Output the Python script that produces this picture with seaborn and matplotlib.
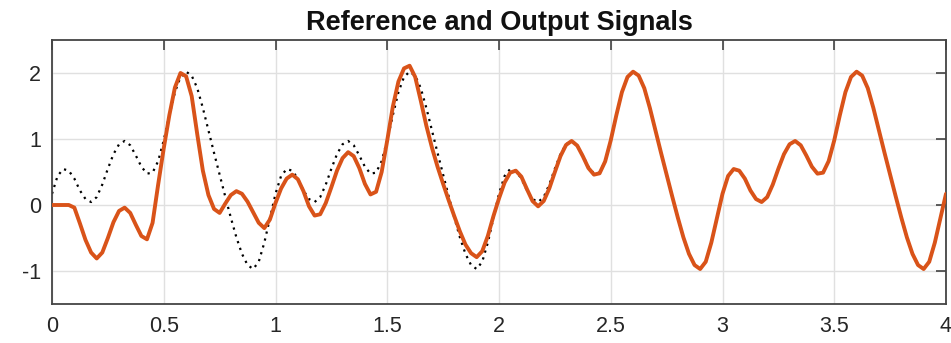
import numpy as np
import pandas as pd
import matplotlib
matplotlib.use("Agg")
import matplotlib.pyplot as plt
import seaborn as sns

# Sample times (s), 0.025 s spacing from 0 to 4 s
time = np.round(np.arange(161) * 0.025, 3)

# Reference signal (periodic, 1 s period)
reference = [
    0.17, 0.44, 0.545, 0.52, 0.40, 0.22, 0.09, 0.045, 0.12, 0.31,
    0.55, 0.77, 0.92, 0.97, 0.905, 0.75, 0.58, 0.475, 0.49, 0.665,
    0.98, 1.36, 1.71, 1.94, 2.02, 1.96, 1.77, 1.47, 1.13, 0.79,
    0.46, 0.13, -0.19, -0.49, -0.74, -0.91, -0.97, -0.86, -0.57, -0.20,
    0.17, 0.44, 0.545, 0.52, 0.40, 0.22, 0.09, 0.045, 0.12, 0.31,
    0.55, 0.77, 0.92, 0.97, 0.905, 0.75, 0.58, 0.475, 0.49, 0.665,
    0.98, 1.36, 1.71, 1.94, 2.02, 1.96, 1.77, 1.47, 1.13, 0.79,
    0.46, 0.13, -0.19, -0.49, -0.74, -0.91, -0.97, -0.86, -0.57, -0.20,
    0.17, 0.44, 0.545, 0.52, 0.40, 0.22, 0.09, 0.045, 0.12, 0.31,
    0.55, 0.77, 0.92, 0.97, 0.905, 0.75, 0.58, 0.475, 0.49, 0.665,
    0.98, 1.36, 1.71, 1.94, 2.02, 1.96, 1.77, 1.47, 1.13, 0.79,
    0.46, 0.13, -0.19, -0.49, -0.74, -0.91, -0.97, -0.86, -0.57, -0.20,
    0.17, 0.44, 0.545, 0.52, 0.40, 0.22, 0.09, 0.045, 0.12, 0.31,
    0.55, 0.77, 0.92, 0.97, 0.905, 0.75, 0.58, 0.475, 0.49, 0.665,
    0.98, 1.36, 1.71, 1.94, 2.02, 1.96, 1.77, 1.47, 1.13, 0.79,
    0.46, 0.13, -0.19, -0.49, -0.74, -0.91, -0.97, -0.86, -0.57, -0.20,
    0.17,
]

# Plant output: starts at rest, converges onto the reference
output = [
    0.00, 0.00, 0.00, 0.00, -0.04, -0.28, -0.53, -0.72, -0.81, -0.72,
    -0.50, -0.26, -0.09, -0.04, -0.12, -0.30, -0.47, -0.52, -0.27, 0.31,
    0.86, 1.36, 1.78, 2.00, 1.95, 1.65, 1.07, 0.52, 0.15, -0.06,
    -0.12, 0.02, 0.15, 0.21, 0.17, 0.05, -0.11, -0.27, -0.35, -0.22,
    0.03, 0.25, 0.40, 0.46, 0.39, 0.21, -0.02, -0.16, -0.14, 0.03,
    0.27, 0.52, 0.71, 0.80, 0.74, 0.56, 0.32, 0.16, 0.20, 0.50,
    0.98, 1.49, 1.87, 2.07, 2.11, 1.94, 1.58, 1.20, 0.87, 0.58,
    0.32, 0.07, -0.17, -0.40, -0.60, -0.73, -0.79, -0.70, -0.47, -0.17,
    0.10, 0.34, 0.49, 0.52, 0.43, 0.24, 0.06, -0.02, 0.06, 0.25,
    0.50, 0.74, 0.91, 0.97, 0.90, 0.74, 0.56, 0.46, 0.48, 0.66,
    0.98, 1.36, 1.71, 1.94, 2.02, 1.96, 1.77, 1.47, 1.13, 0.79,
    0.46, 0.13, -0.19, -0.49, -0.74, -0.91, -0.97, -0.86, -0.57, -0.20,
    0.17, 0.44, 0.545, 0.52, 0.40, 0.22, 0.09, 0.045, 0.12, 0.31,
    0.55, 0.77, 0.92, 0.97, 0.905, 0.75, 0.58, 0.475, 0.49, 0.665,
    0.98, 1.36, 1.71, 1.94, 2.02, 1.96, 1.77, 1.47, 1.13, 0.79,
    0.46, 0.13, -0.19, -0.49, -0.74, -0.91, -0.97, -0.86, -0.57, -0.20,
    0.17,
]

x_ticks = [0, 0.5, 1, 1.5, 2, 2.5, 3, 3.5, 4]
x_tick_labels = ["0", "0.5", "1", "1.5", "2", "2.5", "3", "3.5", "4"]
y_ticks = [-1, 0, 1, 2]
y_tick_labels = ["-1", "0", "1", "2"]

sns.set_style("white")
plt.rcParams["font.family"] = ["Liberation Sans", "DejaVu Sans"]

df = pd.DataFrame({"time": time, "reference": reference, "output": output})

fig = plt.figure(figsize=(9.51, 3.43), dpi=100)
ax = fig.add_axes([52 / 951, 1 - 304 / 343, 894 / 951, 264 / 343])

ax.grid(True, color="#e0e0e0", linewidth=1.0)
ax.set_axisbelow(True)

sns.lineplot(data=df, x="time", y="reference", ax=ax, color="black",
             linewidth=1.6, zorder=2)
ax.lines[-1].set_dashes((1.0, 2.2))
sns.lineplot(data=df, x="time", y="output", ax=ax, color="#D95319",
             linewidth=2.8, zorder=3)
for line in ax.lines:
    line.set_solid_joinstyle("round")
    line.set_solid_capstyle("round")

ax.set_xlim(0, 4)
ax.set_ylim(-1.5, 2.5)
ax.set_xticks(x_ticks)
ax.set_xticklabels(x_tick_labels)
ax.set_yticks(y_ticks)
ax.set_yticklabels(y_tick_labels)
ax.set_xlabel("")
ax.set_ylabel("")

ax.tick_params(axis="both", which="both", direction="in", length=7,
               width=1.1, color="#333333", labelsize=15.5,
               labelcolor="#262626", top=True, right=True)
ax.tick_params(axis="x", pad=9)
ax.tick_params(axis="y", pad=8)
for spine in ax.spines.values():
    spine.set_visible(True)
    spine.set_color("#444444")
    spine.set_linewidth(1.3)

ax.set_title("Reference and Output Signals", fontsize=19.5,
             fontweight="bold", color="#111111", pad=7)

fig.savefig("out.png", dpi=100)
